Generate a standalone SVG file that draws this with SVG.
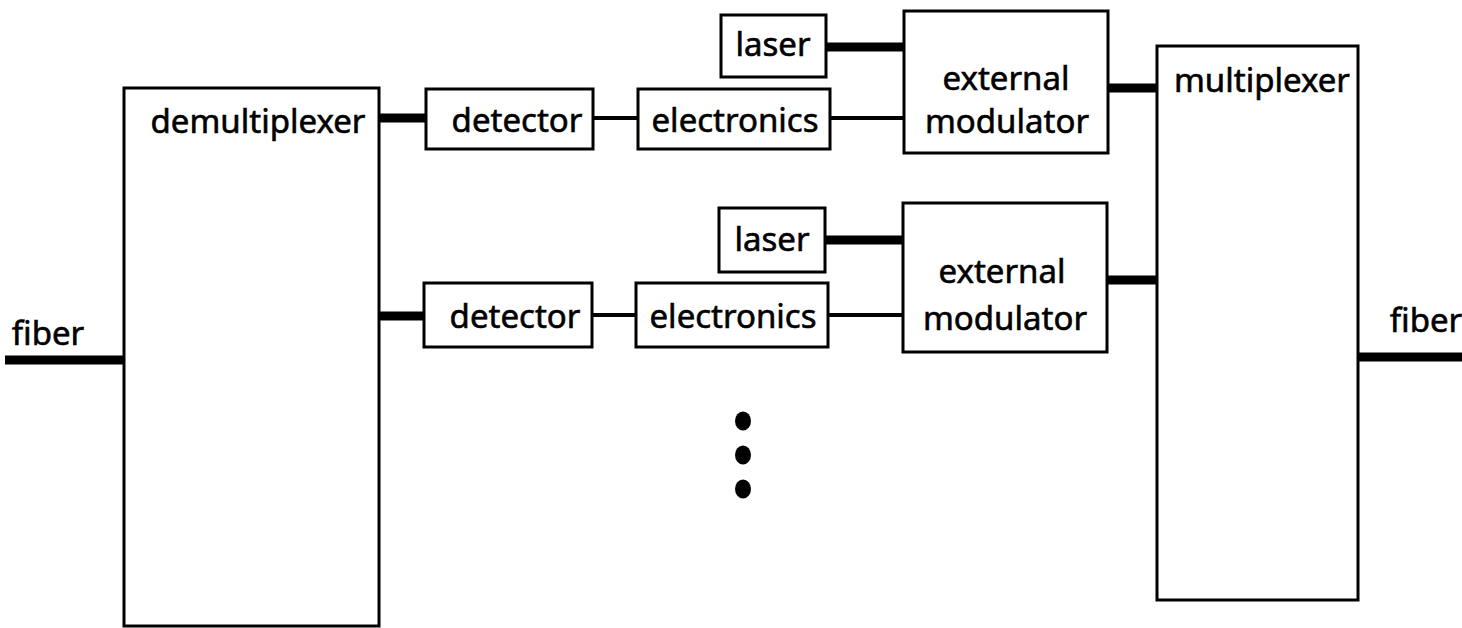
<svg xmlns="http://www.w3.org/2000/svg" width="1462" height="628" viewBox="0 0 1462 628">
<style>
.box{fill:#fff;stroke:#000;stroke-width:3}
.t{font-family:"Noto Sans","Open Sans",sans-serif;font-size:33px;fill:#000;stroke:#000;stroke-width:0.6;text-anchor:middle}
.thick{stroke:#000;stroke-width:9;fill:none}
.thin{stroke:#000;stroke-width:4;fill:none}
</style>
<rect width="1462" height="628" fill="#fff"/>
<g id="connectors">
<line class="thick" x1="5" y1="360" x2="124" y2="360"/>
<line class="thick" x1="379" y1="118" x2="426" y2="118"/>
<line class="thin" x1="593" y1="118" x2="638" y2="118"/>
<line class="thin" x1="830" y1="118" x2="904" y2="118"/>
<line class="thick" x1="826" y1="47" x2="904" y2="47"/>
<line class="thick" x1="1108" y1="88" x2="1157" y2="88"/>
<line class="thick" x1="379" y1="316" x2="424" y2="316"/>
<line class="thin" x1="592" y1="315" x2="636" y2="315"/>
<line class="thin" x1="828" y1="315" x2="903" y2="315"/>
<line class="thick" x1="825" y1="240" x2="903" y2="240"/>
<line class="thick" x1="1107" y1="280" x2="1156" y2="280"/>
<line class="thick" x1="1357" y1="357" x2="1462" y2="357"/>
</g>
<g id="fiber-in"><text class="t" x="48" y="345">fiber</text></g>
<g id="fiber-out"><text class="t" x="1426" y="332">fiber</text></g>
<g id="demux"><rect class="box" x="124" y="88" width="255" height="538"/><text class="t" x="258" y="133">demultiplexer</text></g>
<g id="detector1"><rect class="box" x="426" y="89" width="167" height="60"/><text class="t" x="517" y="132">detector</text></g>
<g id="electronics1"><rect class="box" x="638" y="89" width="192" height="60"/><text class="t" x="735" y="132">electronics</text></g>
<g id="laser1"><rect class="box" x="721" y="15" width="105" height="62"/><text class="t" x="773" y="56">laser</text></g>
<g id="extmod1"><rect class="box" x="904" y="11" width="204" height="142"/><text class="t" x="1006" y="90">external</text><text class="t" x="1007" y="133">modulator</text></g>
<g id="detector2"><rect class="box" x="424" y="283" width="168" height="64"/><text class="t" x="515" y="328">detector</text></g>
<g id="electronics2"><rect class="box" x="636" y="283" width="192" height="64"/><text class="t" x="733" y="328">electronics</text></g>
<g id="laser2"><rect class="box" x="719" y="208" width="106" height="64"/><text class="t" x="772" y="251">laser</text></g>
<g id="extmod2"><rect class="box" x="903" y="203" width="204" height="149"/><text class="t" x="1002" y="283">external</text><text class="t" x="1005" y="330">modulator</text></g>
<g id="mux"><rect class="box" x="1157" y="46" width="201" height="554"/><text class="t" x="1262" y="92">multiplexer</text></g>
<g id="dots"><ellipse cx="743" cy="421" rx="8" ry="9.5"/><ellipse cx="743" cy="455" rx="8" ry="9.5"/><ellipse cx="743" cy="489" rx="8" ry="9.5"/></g>
</svg>
